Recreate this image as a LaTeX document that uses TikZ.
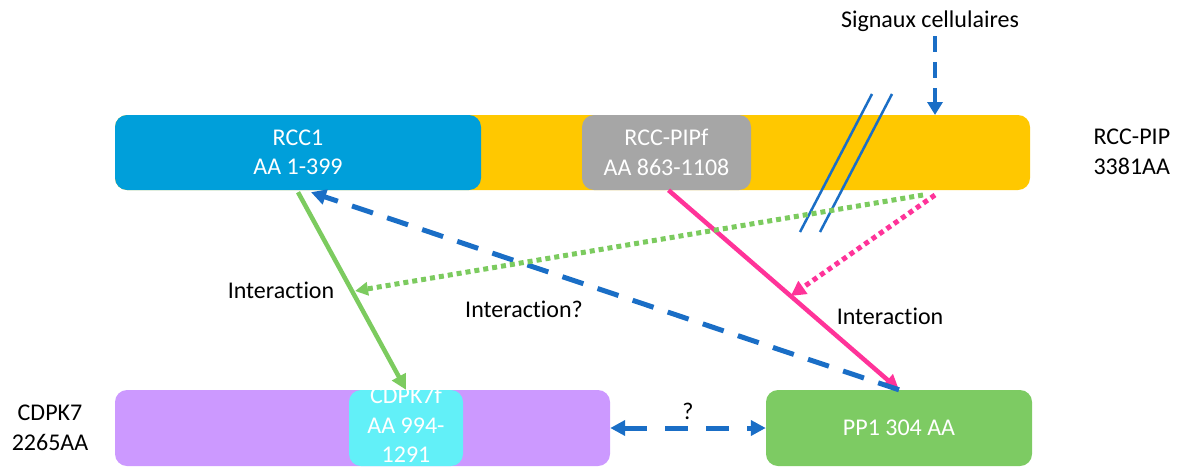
\documentclass[tikz,border=0pt]{standalone}
\usepackage{fontspec}
\setmainfont{Carlito}[Ligatures=NoCommon]
\usetikzlibrary{arrows.meta,calc}
\definecolor{cyellow}{HTML}{FFC800}
\definecolor{cblue}{HTML}{009FDA}
\definecolor{cgray}{HTML}{A6A6A6}
\definecolor{cpurple}{HTML}{CC99FF}
\definecolor{ccyan}{HTML}{62F0F8}
\definecolor{cgreenbox}{HTML}{7DCB63}
\definecolor{carrowblue}{HTML}{1A6EC6}
\definecolor{cpink}{HTML}{FF3399}
\definecolor{cgreen}{HTML}{7CCB5F}
\begin{document}
\begin{tikzpicture}[x=1pt,y=-1pt,
  font=\fontsize{24}{29.5}\selectfont,
  boxstyle/.style={rounded corners=12pt, inner sep=0pt, text=white, align=center},
  plain/.style={align=center, text=black},
  tip/.style={-{Triangle[length=15pt,width=15pt]}},
  bigdash/.style={carrowblue, line width=5pt, dash pattern=on 22pt off 15pt},
  dots/.style={line width=5pt, dash pattern=on 5pt off 4pt}]
\clip (0,0) rectangle (1177,466);
% boxes
\node[boxstyle, fill=cyellow, minimum width=915pt, minimum height=75pt] (rccpip) at (572.5,152.5) {};
\node[boxstyle, fill=cblue, minimum width=366pt, minimum height=75pt] (rcc1) at (298,152.5) {RCC1\\AA 1-399};
\node[boxstyle, fill=cgray, minimum width=169pt, minimum height=75pt] (pipf) at (666.5,152.5) {RCC-PIPf\\AA 863-1108};
\node[boxstyle, fill=cpurple, minimum width=495pt, minimum height=76pt] (cdpk7) at (362.5,428) {};
\node[boxstyle, fill=ccyan, minimum width=114pt, minimum height=76pt] (cdpk7f) at (406,428) {};
\node[boxstyle, anchor=north] (cdpk7ftext) at (406,387) {CDPK7f\\AA 994-\\1291};
\node[boxstyle, fill=cgreenbox, minimum width=266pt, minimum height=76pt] (pp1) at (899,428) {PP1 304 AA};
% side labels
\node[align=left, anchor=west] (rccpiplabel) at (1090,152) {RCC-PIP\\3381AA};
\node[plain] (cdpk7label) at (50,428) {CDPK7\\2265AA};
\node[plain] (signaux) at (930,21) {Signaux cellulaires};
% signal arrow
\coordinate (sigend) at (935,115);
\draw[carrowblue, line width=4.5pt, dash pattern=on 16pt off 10pt, -{Triangle[length=13pt,width=15pt]}] (935,36) -- (sigend);
% double slash
\draw[carrowblue, line width=2.5pt] (872,94) -- (800,232);
\draw[carrowblue, line width=2.5pt] (892,94) -- (820,232);
% green interaction
\draw[cgreen, line width=4.5pt, tip] ($(rcc1.south)+(0,2)$) -- (cdpk7f.north) coordinate[pos=0.5] (gmid);
% pink interaction
\draw[cpink, line width=4.5pt, tip] ($(pipf.south)+(2,0)$) -- (pp1.north) coordinate[pos=0.53] (pmid);
% blue dashed interaction?
\draw[bigdash, tip] (pp1.north) -- ($(rcc1.south)+(13,2)$);
% dotted arrows
\coordinate (gstart) at (923,195);
\coordinate (pstart) at (935,195);
\draw[cgreen, dots, -{Triangle[length=13pt,width=13pt]}] (gstart) -- ($(gmid)+(3,0)$);
\draw[cpink, dots, -{Triangle[length=15pt,width=15pt]}] (pstart) -- (pmid);
% double-headed dashed
\draw[carrowblue, line width=5pt, dash pattern=on 23pt off 18pt, {Triangle[length=15pt,width=15pt]}-{Triangle[length=15pt,width=15pt]}] (cdpk7.east) -- (pp1.west) node[midway, above=3pt, text=black] (q) {?};
% labels
\node[plain] (l1) at (281,290) {Interaction};
\node[plain] (l2) at (524,309) {Interaction?};
\node[plain] (l3) at (890,316) {Interaction};
\end{tikzpicture}
\end{document}
